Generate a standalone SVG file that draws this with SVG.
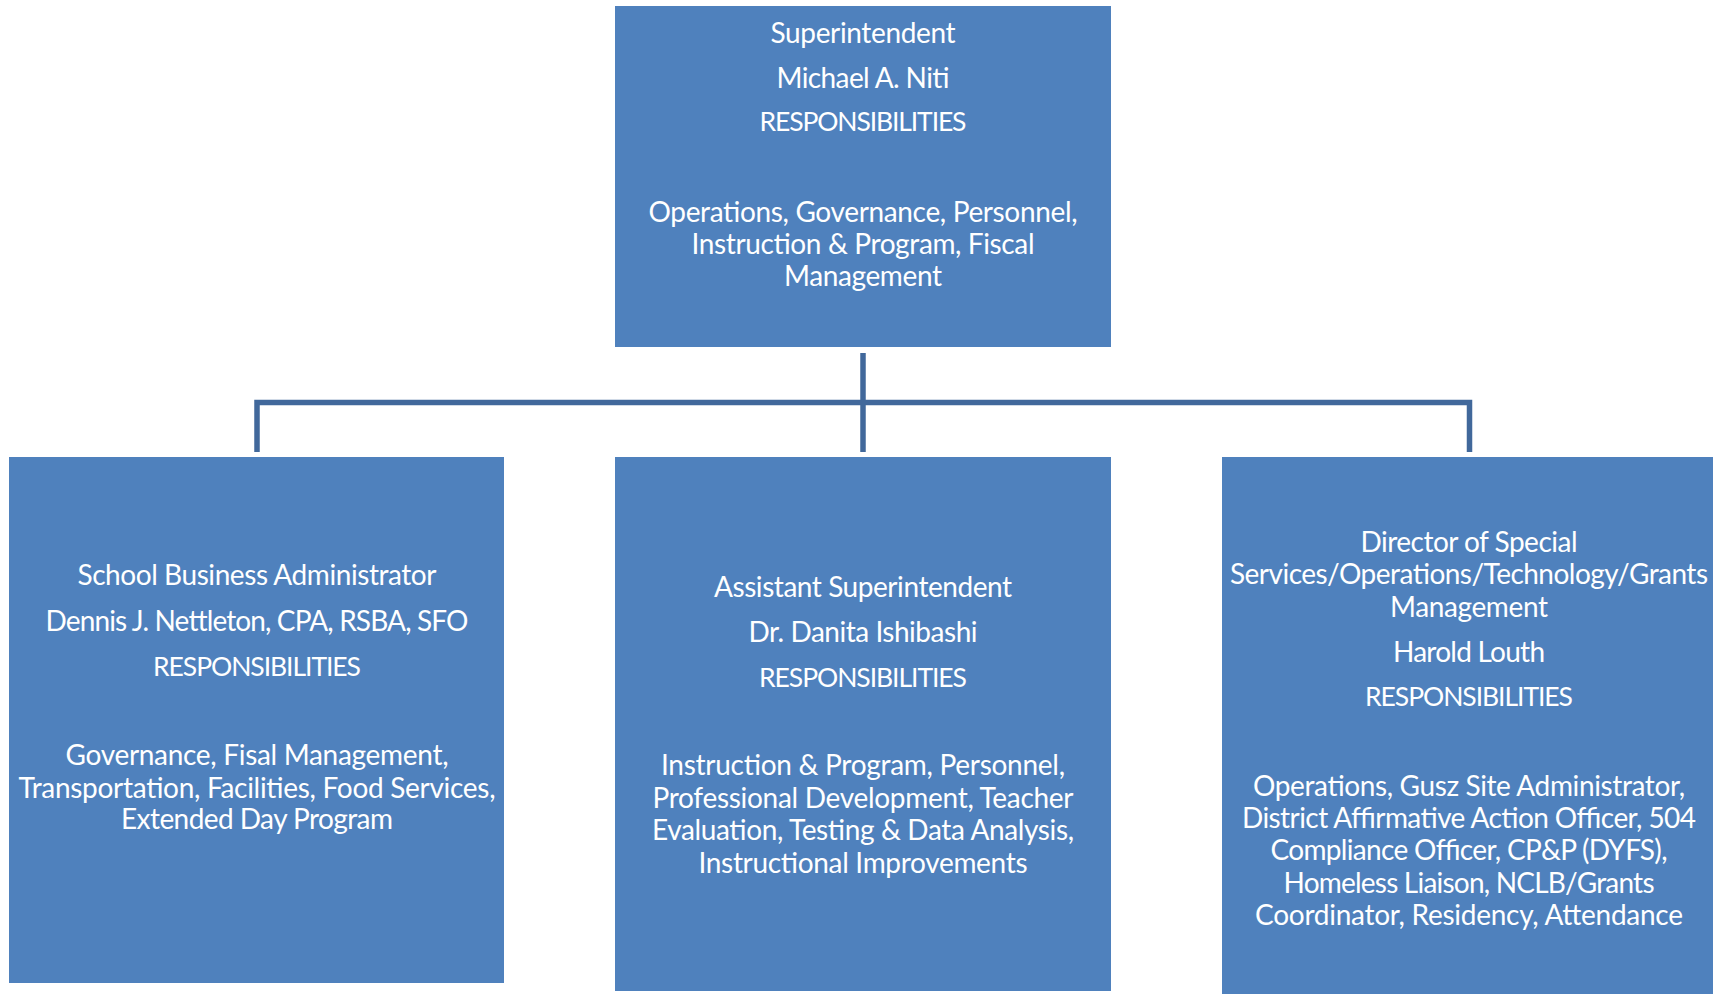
<svg xmlns="http://www.w3.org/2000/svg" width="1713" height="994" viewBox="0 0 1713 994">
<style>
.box{fill:#4F81BD;}
.t{font-family:Lato,"Open Sans","Liberation Sans",sans-serif;font-size:28px;fill:#FFFFFF;text-anchor:middle;}
.r{font-size:26.5px;}
.conn{fill:none;stroke:#41689B;stroke-width:5.5;stroke-linejoin:miter;}
</style>
<rect width="1713" height="994" fill="#FFFFFF"/>
<g id="connectors">
<path class="conn" d="M863 353 V452"/>
<path class="conn" d="M257 452 V402.5 H1469.5 V452"/>
</g>
<g id="superintendent">
<rect class="box" x="615" y="6" width="496" height="341"/>
<text class="t" x="863" y="43" textLength="185">Superintendent</text>
<text class="t" x="863" y="88" textLength="173">Michael A. Niti</text>
<text class="t r" x="863" y="131" textLength="207">RESPONSIBILITIES</text>
<text class="t" x="863" y="222" textLength="429">Operations, Governance, Personnel,</text>
<text class="t" x="863" y="254" textLength="343">Instruction &amp; Program, Fiscal</text>
<text class="t" x="863" y="286" textLength="158">Management</text>
</g>
<g id="business-admin">
<rect class="box" x="9" y="457" width="495" height="526"/>
<text class="t" x="257" y="585" textLength="359">School Business Administrator</text>
<text class="t" x="257" y="631" textLength="423">Dennis J. Nettleton, CPA, RSBA, SFO</text>
<text class="t r" x="257" y="676" textLength="208">RESPONSIBILITIES</text>
<text class="t" x="257" y="765" textLength="383">Governance, Fisal Management,</text>
<text class="t" x="257" y="798" textLength="477">Transportation, Facilities, Food Services,</text>
<text class="t" x="257" y="829" textLength="272">Extended Day Program</text>
</g>
<g id="assistant-superintendent">
<rect class="box" x="615" y="457" width="496" height="534"/>
<text class="t" x="863" y="597" textLength="298">Assistant Superintendent</text>
<text class="t" x="863" y="642" textLength="229">Dr. Danita Ishibashi</text>
<text class="t r" x="863" y="687" textLength="208">RESPONSIBILITIES</text>
<text class="t" x="863" y="775" textLength="404">Instruction &amp; Program, Personnel,</text>
<text class="t" x="863" y="808" textLength="421">Professional Development, Teacher</text>
<text class="t" x="863" y="840" textLength="422">Evaluation, Testing &amp; Data Analysis,</text>
<text class="t" x="863" y="873" textLength="329">Instructional Improvements</text>
</g>
<g id="director-special-services">
<rect class="box" x="1222" y="457" width="496" height="540"/>
<text class="t" x="1469" y="552" textLength="217">Director of Special</text>
<text class="t" x="1469" y="584" textLength="478">Services/Operations/Technology/Grants</text>
<text class="t" x="1469" y="617" textLength="158">Management</text>
<text class="t" x="1469" y="662" textLength="152">Harold Louth</text>
<text class="t r" x="1469" y="706" textLength="208">RESPONSIBILITIES</text>
<text class="t" x="1469" y="796" textLength="432">Operations, Gusz Site Administrator,</text>
<text class="t" x="1469" y="828" textLength="454">District Affirmative Action Officer, 504</text>
<text class="t" x="1469" y="860" textLength="397">Compliance Officer, CP&amp;P (DYFS),</text>
<text class="t" x="1469" y="893" textLength="371">Homeless Liaison, NCLB/Grants</text>
<text class="t" x="1469" y="925" textLength="428">Coordinator, Residency, Attendance</text>
</g>
</svg>
